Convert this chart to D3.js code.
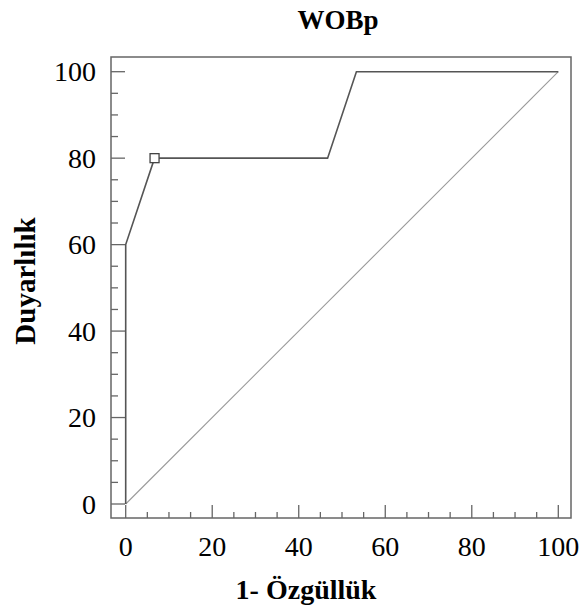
<!DOCTYPE html>
<html><head><meta charset="utf-8">
<script src="https://cdn.jsdelivr.net/npm/d3@7"></script>
<style>body{margin:0;background:#fff}svg{display:block}</style>
</head><body>
<script>
const fpr = [0, 0, 6.67, 46.67, 53.33, 100];
const tpr = [0, 60, 80, 80, 100, 100];
const cutoffFpr = [6.67];
const cutoffTpr = [80];
const diagX = [0, 100];
const diagY = [0, 100];
const majorTicks = [0, 20, 40, 60, 80, 100];
const minorTicks = d3.range(0, 101, 5);
const title = "WOBp";
const xTitle = "1- Özgüllük";
const yTitle = "Duyarlılık";

const W = 587, H = 606;
const frame = {l:111, r:571, t:57, b:518};
const x = d3.scaleLinear().domain([0,100]).range([125.7, 558.3]);
const y = d3.scaleLinear().domain([0,100]).range([504, 71.7]);
const serif = "'Liberation Serif','Times New Roman',serif";

const svg = d3.select("body").append("svg").attr("width", W).attr("height", H);

// frame
svg.append("rect").attr("x", frame.l).attr("y", frame.t)
  .attr("width", frame.r-frame.l).attr("height", frame.b-frame.t)
  .attr("fill","none").attr("stroke","#666").attr("stroke-width",1.5);

// ticks
const g = svg.append("g").attr("stroke","#666").attr("stroke-width",1.3);
minorTicks.forEach(v => {
  const major = majorTicks.includes(v);
  g.append("line").attr("x1", frame.l).attr("x2", frame.l + (major?14:7))
    .attr("y1", y(v)).attr("y2", y(v));
  g.append("line").attr("y1", frame.b).attr("y2", frame.b - (major?13:6))
    .attr("x1", x(v)).attr("x2", x(v));
});

// tick labels
svg.append("g").selectAll("text").data(majorTicks).join("text")
  .attr("x", 96).attr("y", d => y(d)).attr("dy","0.34em")
  .attr("text-anchor","end").attr("font-family", serif).attr("font-size", 28)
  .attr("fill","#000").text(d => d);
svg.append("g").selectAll("text").data(majorTicks).join("text")
  .attr("x", d => x(d)).attr("y", 556)
  .attr("text-anchor","middle").attr("font-family", serif).attr("font-size", 28)
  .attr("fill","#000").text(d => d);

// diagonal
svg.append("path").datum(diagX.map((d,i)=>[d, diagY[i]]))
  .attr("d", d3.line().x(d=>x(d[0])).y(d=>y(d[1])))
  .attr("fill","none").attr("stroke","#999").attr("stroke-width",1.1);

// ROC curve
svg.append("path").datum(fpr.map((d,i)=>[d, tpr[i]]))
  .attr("d", d3.line().x(d=>x(d[0])).y(d=>y(d[1])))
  .attr("fill","none").attr("stroke","#555").attr("stroke-width",1.6);

// cutoff marker
svg.append("g").selectAll("rect").data(cutoffFpr).join("rect")
  .attr("x", (d) => x(d) - 4.5).attr("y", (d,i) => y(cutoffTpr[i]) - 4.5)
  .attr("width", 9).attr("height", 9)
  .attr("fill","#fff").attr("stroke","#444").attr("stroke-width",1.3);

// titles
svg.append("text").attr("x", 338).attr("y", 29).attr("text-anchor","middle")
  .attr("font-family", serif).attr("font-weight","bold").attr("font-size", 27).text(title);
svg.append("text").attr("x", 306).attr("y", 599).attr("text-anchor","middle")
  .attr("font-family", serif).attr("font-weight","bold").attr("font-size", 28).text(xTitle);
svg.append("text").attr("transform","translate(35,281) rotate(-90)").attr("text-anchor","middle")
  .attr("font-family", serif).attr("font-weight","bold").attr("font-size", 29).text(yTitle);
</script>
</body></html>
